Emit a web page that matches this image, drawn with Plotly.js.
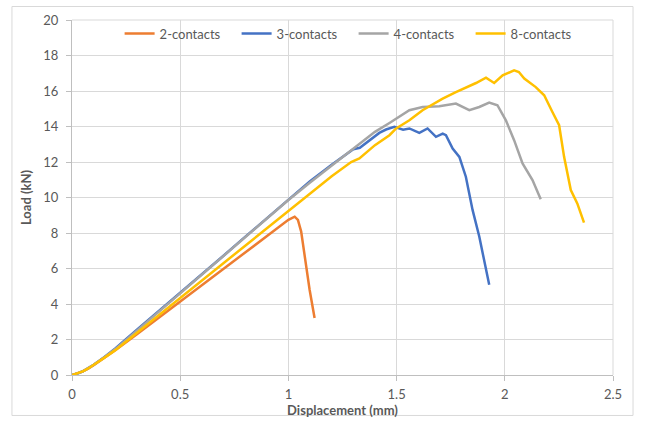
<!DOCTYPE html>
<html>
<head>
<meta charset="utf-8">
<script src="https://cdn.plot.ly/plotly-3.0.1.min.js"></script>
<style>
  html, body { margin: 0; padding: 0; background: #ffffff; }
  #chart { width: 646px; height: 421px; }
</style>
</head>
<body>
<div id="chart"></div>
<script>
// Load–displacement curves for joints with different numbers of contacts
const seriesNames = ['2-contacts', '3-contacts', '4-contacts', '8-contacts'];
const seriesColors = ['#ED7D31', '#4472C4', '#A5A5A5', '#FFC000'];

const disp2 = [0, 0.025, 0.05, 0.075, 0.1, 0.15, 0.2, 0.3, 0.4, 0.5, 0.6, 0.7, 0.8, 0.9, 1.0, 1.029, 1.044, 1.059, 1.075, 1.098, 1.121];
const load2 = [0, 0.08, 0.2, 0.36, 0.55, 0.98, 1.4, 2.3, 3.22, 4.15, 5.08, 6.0, 6.92, 7.84, 8.74, 8.92, 8.74, 8.08, 6.67, 4.8, 3.21];

const disp3 = [0, 0.025, 0.05, 0.075, 0.1, 0.15, 0.2, 0.3, 0.4, 0.5, 0.6, 0.7, 0.8, 0.9, 1.0, 1.1, 1.2, 1.3, 1.33, 1.375, 1.42, 1.451, 1.49, 1.53, 1.559, 1.605, 1.643, 1.682, 1.713, 1.728, 1.759, 1.79, 1.82, 1.851, 1.882, 1.928];
const load3 = [0, 0.08, 0.21, 0.38, 0.58, 1.02, 1.5, 2.55, 3.58, 4.62, 5.68, 6.72, 7.78, 8.84, 9.9, 10.92, 11.85, 12.72, 12.8, 13.23, 13.64, 13.83, 13.98, 13.82, 13.89, 13.64, 13.89, 13.42, 13.6, 13.51, 12.76, 12.29, 11.17, 9.3, 7.8, 5.08];

const disp4 = [0, 0.025, 0.05, 0.075, 0.1, 0.15, 0.2, 0.3, 0.4, 0.5, 0.6, 0.7, 0.8, 0.9, 1.0, 1.1, 1.2, 1.313, 1.4, 1.467, 1.498, 1.559, 1.62, 1.697, 1.774, 1.836, 1.882, 1.928, 1.966, 2.005, 2.043, 2.082, 2.128, 2.166];
const load4 = [0, 0.08, 0.21, 0.38, 0.58, 1.0, 1.46, 2.5, 3.55, 4.6, 5.65, 6.7, 7.76, 8.81, 9.86, 10.85, 11.8, 12.85, 13.7, 14.2, 14.45, 14.92, 15.1, 15.14, 15.29, 14.92, 15.1, 15.35, 15.2, 14.35, 13.23, 11.92, 10.98, 9.9];

const disp8 = [0, 0.025, 0.05, 0.075, 0.1, 0.15, 0.2, 0.3, 0.4, 0.5, 0.6, 0.7, 0.8, 0.9, 1.0, 1.1, 1.2, 1.29, 1.328, 1.4, 1.467, 1.498, 1.559, 1.62, 1.713, 1.774, 1.867, 1.913, 1.951, 1.99, 2.043, 2.065, 2.09, 2.143, 2.182, 2.22, 2.251, 2.274, 2.305, 2.335, 2.366];
const load8 = [0, 0.08, 0.2, 0.37, 0.56, 0.98, 1.4, 2.38, 3.34, 4.3, 5.28, 6.26, 7.24, 8.22, 9.2, 10.2, 11.2, 12.0, 12.2, 12.95, 13.51, 13.89, 14.35, 14.92, 15.57, 15.94, 16.45, 16.75, 16.45, 16.88, 17.16, 17.07, 16.7, 16.22, 15.76, 14.82, 14.07, 12.29, 10.42, 9.67, 8.58];

const xTicks = [0, 0.5, 1, 1.5, 2, 2.5];
const xTickText = ['0', '0.5', '1', '1.5', '2', '2.5'];
const yTicks = [0, 2, 4, 6, 8, 10, 12, 14, 16, 18, 20];

const xs = [disp2, disp3, disp4, disp8];
const ys = [load2, load3, load4, load8];

const traces = seriesNames.map((name, i) => ({
  type: 'scatter',
  mode: 'lines',
  name: name,
  x: xs[i],
  y: ys[i],
  line: { color: seriesColors[i], width: 2.5 },
  hoverinfo: 'skip'
}));

const fontFamily = 'Lato, "Open Sans", "Liberation Sans", sans-serif';
const textColor = '#595959';
const gridColor = '#d9d9d9';

const layout = {
  width: 646,
  height: 421,
  margin: { l: 72, r: 33, t: 20, b: 46 },
  paper_bgcolor: '#ffffff',
  plot_bgcolor: '#ffffff',
  font: { family: fontFamily, size: 13, color: textColor },
  showlegend: true,
  legend: {
    orientation: 'h',
    x: 0.088,
    xanchor: 'left',
    y: 0.962,
    yanchor: 'middle',
    bgcolor: 'rgba(255,255,255,0)',
    font: { family: fontFamily, size: 13, color: textColor },
    entrywidth: 72,
    entrywidthmode: 'pixels',
    itemwidth: 30,
    traceorder: 'normal'
  },
  xaxis: {
    range: [0, 2.5],
    tickvals: xTicks,
    ticktext: xTickText,
    showgrid: true,
    gridcolor: gridColor,
    gridwidth: 1,
    zeroline: false,
    showline: true,
    linecolor: '#bfbfbf',
    linewidth: 1,
    ticks: 'outside',
    ticklen: 5,
    tickcolor: '#bfbfbf',
    ticklabelstandoff: 2,
    tickfont: { family: fontFamily, size: 13, color: textColor },
    title: { text: '<b>Displacement (mm)</b>', font: { family: fontFamily, size: 13, color: textColor }, standoff: 4 },
    fixedrange: true
  },
  yaxis: {
    range: [0, 20],
    tickvals: yTicks,
    showgrid: true,
    gridcolor: gridColor,
    gridwidth: 1,
    zeroline: false,
    showline: true,
    linecolor: '#bfbfbf',
    linewidth: 1,
    ticks: 'outside',
    ticklen: 5,
    tickcolor: '#bfbfbf',
    ticklabelstandoff: 5,
    tickfont: { family: fontFamily, size: 13, color: textColor },
    title: { text: '<b>Load (kN)</b>', font: { family: fontFamily, size: 13, color: textColor }, standoff: 8 },
    fixedrange: true
  },
  shapes: [
    // right and top frame of the plotting area
    { type: 'line', xref: 'paper', yref: 'paper', x0: 1, x1: 1, y0: 0, y1: 1, line: { color: gridColor, width: 1 } },
    { type: 'line', xref: 'paper', yref: 'paper', x0: 0, x1: 1, y0: 1, y1: 1, line: { color: gridColor, width: 1 } },
    // chart border
    { type: 'rect', xref: 'paper', yref: 'paper', x0: -0.111, x1: 1.037, y0: -0.114, y1: 1.038, line: { color: gridColor, width: 1 }, layer: 'below' }
  ]
};

Plotly.newPlot('chart', traces, layout, { displayModeBar: false, staticPlot: true });
</script>
</body>
</html>
